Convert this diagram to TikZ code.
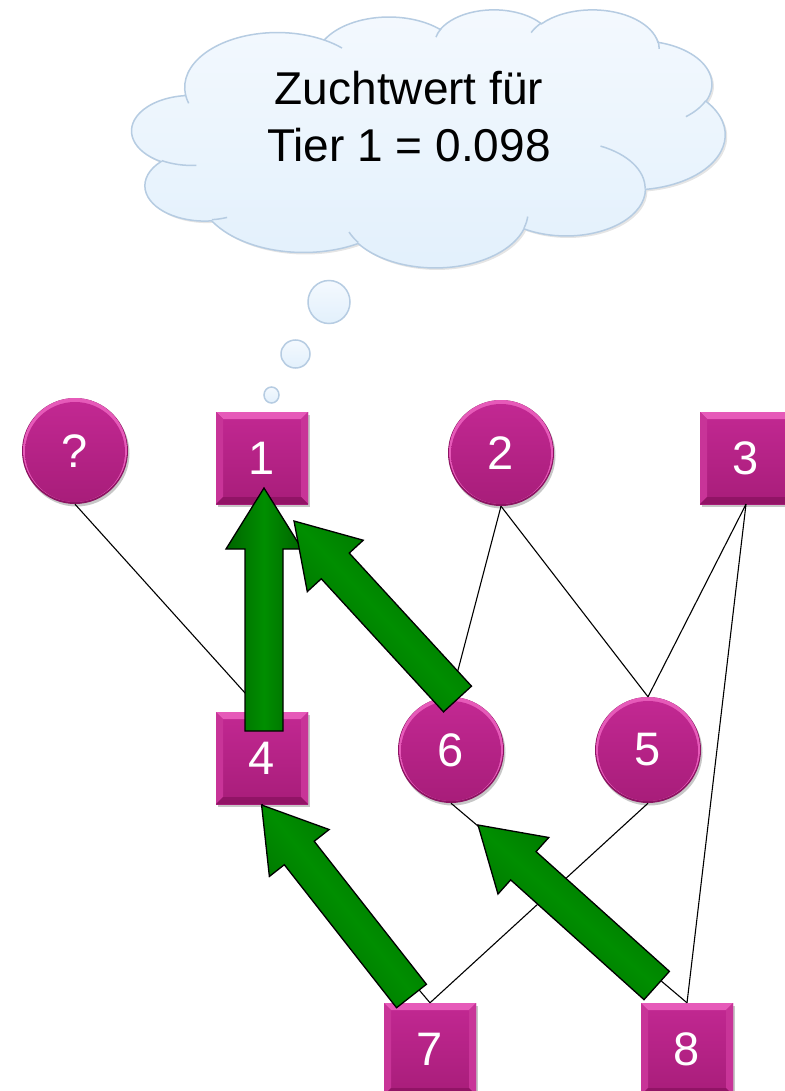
\documentclass[tikz,border=0pt]{standalone}
\usepackage{fontspec}
\setmainfont{Liberation Sans}
\usetikzlibrary{calc,shadows}
\definecolor{magtop}{RGB}{194,40,146}
\definecolor{magbot}{RGB}{168,29,122}
\definecolor{magrim}{RGB}{140,20,98}
\definecolor{bevtop}{RGB}{230,90,185}
\definecolor{bevside}{RGB}{200,52,152}
\definecolor{bevbot}{RGB}{145,20,102}
\definecolor{cloudtop}{RGB}{244,249,254}
\definecolor{cloudbot}{RGB}{226,240,252}
\definecolor{cloudline}{RGB}{182,204,226}
\definecolor{gdark}{RGB}{0,100,0}
\definecolor{glight}{RGB}{0,142,0}

\newcommand\myNodeFont{\fontsize{47pt}{56pt}\selectfont}
\newcommand\myCloudFont{\fontsize{46pt}{57pt}\selectfont}

% elliptical arc as in DrawingML (visual angles) -> TikZ parametric arc
\newcommand\prepArc[5]{%
  \pgfmathsetmacro\tmpA{atan2((#2)*sin(#4),(#3)*cos(#4))}%
  \pgfmathsetmacro\tmpB{atan2((#2)*sin((#4)+(#5)),(#3)*cos((#4)+(#5)))}%
  \pgfmathsetmacro\tmpC{mod((\tmpB)-(\tmpA)+720,360)}%
  \edef#1{arc[start angle=\tmpA, delta angle=\tmpC, x radius=#2, y radius=#3]}}

% block arrow: #1 tail, #2 tip, #3 shading angle
\newcommand\blockarrow[3]{%
  \coordinate (ba-b) at ($(#2)!61pt!(#1)$);
  \shadedraw[garrow, shading angle=#3]
    ($(#1)!19pt!90:(#2)$) -- ($(ba-b)!19pt!-90:(#1)$) -- ($(ba-b)!38pt!-90:(#1)$)
    -- (#2) -- ($(ba-b)!38pt!90:(#1)$) -- ($(ba-b)!19pt!90:(#1)$)
    -- ($(#1)!19pt!-90:(#2)$) -- cycle;}

\tikzset{
  nshadow/.style={drop shadow={shadow xshift=1.5pt, shadow yshift=-2.5pt, opacity=0.22, fill=black}},
  sq/.style={rectangle, minimum size=92pt, inner sep=0pt, top color=magtop, bottom color=magbot,
    text=white, font=\myNodeFont, nshadow,
    path picture={
      \fill[bevtop] (path picture bounding box.north west) -- (path picture bounding box.north east)
        -- ++(-7pt,-7pt) -- ($(path picture bounding box.north west)+(7pt,-7pt)$) -- cycle;
      \fill[bevside] (path picture bounding box.north west) -- ++(7pt,-7pt)
        -- ($(path picture bounding box.south west)+(7pt,7pt)$) -- (path picture bounding box.south west) -- cycle;
      \fill[bevside] (path picture bounding box.north east) -- ++(-7pt,-7pt)
        -- ($(path picture bounding box.south east)+(-7pt,7pt)$) -- (path picture bounding box.south east) -- cycle;
      \fill[bevbot] (path picture bounding box.south west) -- ++(7pt,7pt)
        -- ($(path picture bounding box.south east)+(-7pt,7pt)$) -- (path picture bounding box.south east) -- cycle;
    }},
  crc/.style={circle, minimum size=106pt, inner sep=0pt, fill=magrim,
    text=white, font=\myNodeFont, nshadow,
    path picture={
      \fill[bevtop] ($(path picture bounding box.center)+(0pt,1pt)$) circle (52pt);
      \shade[top color=magtop, bottom color=magbot] ($(path picture bounding box.center)+(0pt,-1pt)$) circle (50pt);
    }},
  conn/.style={draw=black, line width=1.1pt},
  garrow/.style={draw=black, line width=1.3pt, line join=miter, top color=gdark, bottom color=gdark, middle color=glight},
  cloudsty/.style={top color=cloudtop, bottom color=cloudbot, draw=cloudline, line width=1.5pt},
  cloudtext/.style={font=\myCloudFont, text=black, inner sep=0pt, anchor=base},
}

\begin{document}
\begin{tikzpicture}[x=1pt, y=-1pt]
\path[use as bounding box, fill=white] (0,0) rectangle (784,1091);

% ---------- cloud (PowerPoint cloud geometry) ----------
\prepArc\cldA{675.3}{919.0}{-190.4875}{123.7805}
\prepArc\cldB{533.3}{726.7}{-144.1024}{89.9452}
\prepArc\cldC{436.5}{594.5}{-145.8079}{99.7230}
\prepArc\cldD{485.7}{659.5}{-130.9861}{117.2417}
\prepArc\cldE{533.3}{727.3}{-78.7089}{109.0269}
\prepArc\cldF{677.5}{922.0}{-46.2673}{130.2690}
\prepArc\cldG{578.5}{786.7}{0.6250}{114.0333}
\prepArc\cldH{675.2}{921.5}{22.4516}{115.1726}
\prepArc\cldI{772.0}{1054.3}{66.2426}{75.7110}
\prepArc\cldJ{436.0}{591.8}{-274.9421}{146.7356}
\prepArc\cldK{434.5}{594.5}{-246.8285}{152.5189}
\prepArc\cldia{434.5}{594.5}{86.7420}{26.4295}
\prepArc\cldib{436.0}{591.8}{73.6105}{11.4475}
\prepArc\cldic{675.2}{921.5}{137.6242}{14.0811}
\prepArc\cldid{675.2}{921.5}{6.4533}{15.9984}
\prepArc\cldie{578.5}{786.7}{-70.2924}{70.9174}
\prepArc\cldif{533.3}{727.3}{30.3180}{27.7515}
\prepArc\cldig{485.7}{659.5}{-13.7443}{14.8589}
\prepArc\cldih{485.7}{659.5}{-149.1815}{18.1954}
\prepArc\cldii{436.5}{594.5}{-163.4943}{17.6864}
\prepArc\cldij{675.3}{919.0}{-66.7070}{12.3194}
\prepArc\cldik{675.3}{919.0}{157.6544}{11.8582}

\begin{scope}[shift={(134,11)}, x=0.137269pt, y=-0.0597222pt]
  \fill[black, opacity=0.10] (390,1437) \cldA \cldB \cldC \cldD \cldE \cldF \cldG \cldH \cldI \cldJ \cldK -- cycle;
\end{scope}
\begin{scope}[shift={(132,9)}, x=0.137269pt, y=-0.0597222pt]
  \shadedraw[cloudsty] (390,1437) \cldA \cldB \cldC \cldD \cldE \cldF \cldG \cldH \cldI \cldJ \cldK -- cycle;
  \draw[cloudline, line width=1.5pt]
    (469.3,2617.7) \cldia
    (692.8,3489.9) \cldib
    (1647.8,3909.0) \cldic
    (2882.7,3475.1) \cldid
    (3412.9,2295.4) \cldie
    (4179.8,1535.4) \cldif
    (3832.4,542.6) \cldig
    (2907.8,395.2) \cldih
    (2214.1,472.0) \cldii
    (1400.0,519.2) \cldij
    (412.7,1578.9) \cldik;
\end{scope}

\node[cloudtext] (t1) at (409,105) {Zuchtwert für};
\node[cloudtext] (t2) at (409,162) {Tier 1 = 0.098};

% thought bubbles
\shadedraw[cloudsty] (329,302) ellipse (21pt and 21.5pt);
\shadedraw[cloudsty] (295.5,354) ellipse (14.5pt and 14pt);
\shadedraw[cloudsty] (271.5,395) ellipse (7.5pt and 8pt);

% ---------- nodes ----------
\node[crc] (q)  at (75,451)   {?};
\node[sq]  (n1) at (262,458)  {1};
\node[crc] (n2) at (501,453)  {2};
\node[sq]  (n3) at (746,458)  {3};
\node[sq]  (n4) at (262,758)  {4};
\node[crc] (n6) at (451,750)  {6};
\node[crc] (n5) at (648,750)  {5};
\node[sq]  (n7) at (430,1049) {7};
\node[sq]  (n8) at (687,1049) {8};

% ---------- pedigree lines ----------
\draw[conn] (q.south)  -- (n4.north);
\draw[conn] (n2.south) -- (n6.north);
\draw[conn] (n2.south) -- (n5.north);
\draw[conn] (n3.south) -- (n5.north);
\draw[conn] (n3.south) -- (n8.north);
\draw[conn] (n5.south) -- (n7.north);
\draw[conn] (n4.south) -- (n7.north);
\draw[conn] (n6.south) -- (n8.north);

% ---------- green arrows ----------
\coordinate (a1s) at (264,731);   \coordinate (a1e) at (264,488);
\coordinate (a2s) at (457.5,699); \coordinate (a2e) at (294,521);
\coordinate (a3s) at (411.5,996); \coordinate (a3e) at (261.6,805);
\coordinate (a4s) at (656.7,985.5); \coordinate (a4e) at (478,825);
\blockarrow{a1s}{a1e}{90}
\blockarrow{a2s}{a2e}{132.6}
\blockarrow{a3s}{a3e}{128.1}
\blockarrow{a4s}{a4e}{138.1}
\end{tikzpicture}
\end{document}
